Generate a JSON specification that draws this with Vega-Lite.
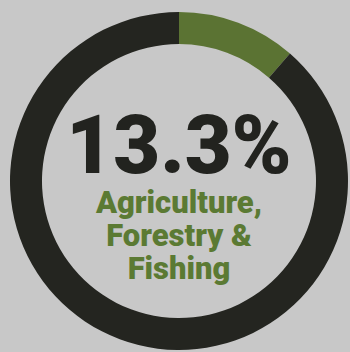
{
  "$schema": "https://vega.github.io/schema/vega-lite/v6.json",
  "width": 350,
  "height": 352,
  "autosize": {"type": "fit", "contains": "padding"},
  "padding": {"left": 8, "top": 10, "right": 0, "bottom": 0},
  "background": "#c8c8c8",
  "config": {"view": {"stroke": null}},
  "layer": [
    {
      "data": {"values": [
        {"segment": "Agriculture, Forestry & Fishing", "share": 11.4, "rank": 1},
        {"segment": "Other sectors", "share": 88.6, "rank": 2}
      ]},
      "mark": {"type": "arc", "outerRadius": 169, "innerRadius": 137, "stroke": null},
      "encoding": {
        "theta": {"field": "share", "type": "quantitative", "stack": true},
        "order": {"field": "rank", "type": "quantitative"},
        "color": {
          "field": "segment",
          "type": "nominal",
          "scale": {"domain": ["Agriculture, Forestry & Fishing", "Other sectors"], "range": ["#5b7333", "#242520"]},
          "legend": null
        }
      }
    },
    {
      "data": {"values": [{"label": "13.3%"}]},
      "mark": {"type": "text", "font": "Roboto", "fontWeight": 900, "fontSize": 81, "color": "#22231f", "align": "center", "baseline": "alphabetic", "dy": -8},
      "encoding": {"text": {"field": "label", "type": "nominal"}}
    },
    {
      "data": {"values": [{"label": "Agriculture,\nForestry &\nFishing"}]},
      "mark": {"type": "text", "font": "Roboto", "fontWeight": 900, "fontSize": 31, "color": "#5b7a33", "align": "center", "baseline": "alphabetic", "dy": 32, "lineBreak": "\n", "lineHeight": 33},
      "encoding": {"text": {"field": "label", "type": "nominal"}}
    }
  ]
}
